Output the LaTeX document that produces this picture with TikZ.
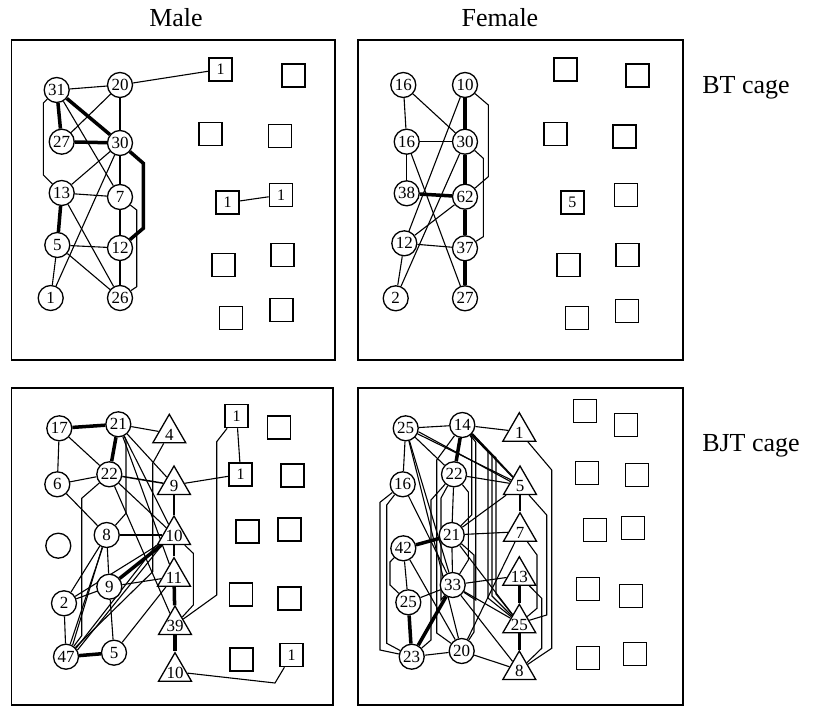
\documentclass[tikz,border=0pt]{standalone}
\usepackage{fontspec}
\setmainfont{Liberation Serif}
\usetikzlibrary{shapes.geometric,backgrounds}
\newcommand\tx[1]{\makebox[0pt]{\raisebox{-0.4em}[0pt][0pt]{#1}}}
\tikzset{
  cn/.style={circle,draw,line width=1.3pt,fill=white,minimum size=25pt,inner sep=0pt,font=\fontsize{17}{17}\selectfont},
  sq/.style={rectangle,draw,line width=1.5pt,fill=white,minimum size=23pt,inner sep=0pt,font=\fontsize{16}{16}\selectfont},
  tri/.style={regular polygon,regular polygon sides=3,draw,line width=1.3pt,fill=white,minimum size=38pt,inner sep=0pt,font=\fontsize{17}{17}\selectfont},
  e/.style={line width=1.1pt,line join=miter},
  tk/.style={line width=3.5pt},
  panel/.style={draw,line width=1.5pt},
  hdr/.style={font=\fontsize{26}{26}\selectfont}
}
\begin{document}
\begin{tikzpicture}[x=1pt,y=-1pt]
\useasboundingbox (0,0) rectangle (817,709);
% panels
\draw[panel] (11.5,40) rectangle (335,360);
\draw[panel] (358,40) rectangle (683,360);
\draw[panel] (11.5,388) rectangle (333,705);
\draw[panel] (358,388) rectangle (683,705);
\node[hdr] (hm) at (176,18) {Male};
\node[hdr] (hf) at (500,18) {Female};
\node[hdr] (hbt) at (746,88) {BT cage};
\node[hdr] (hbjt) at (751,446) {BJT cage};

% ===== Male BT =====
\node[cn] (m31) at (56.7,90) {31};
\node[cn] (m20) at (120,85) {20};
\node[cn] (m27) at (61.7,141.7) {27};
\node[cn] (m30) at (120,143) {30};
\node[cn] (m13) at (61.7,193) {13};
\node[cn] (m7) at (120,197) {7};
\node[cn] (m5) at (57.3,245) {5};
\node[cn] (m12) at (120,248) {12};
\node[cn] (m1) at (50.7,298) {1};
\node[cn] (m26) at (120,298) {26};
\node[sq] (mq1) at (220.7,69.3) {1};
\node[sq] (mq2) at (293.3,75.7) {};
\node[sq] (mq3) at (210.7,134) {};
\node[sq] (mq4) at (280,136) {};
\node[sq] (mq5) at (227.7,202.7) {1};
\node[sq] (mq6) at (281,195) {1};
\node[sq] (mq7) at (223.3,265) {};
\node[sq] (mq8) at (282.7,255) {};
\node[sq] (mq9) at (231,318) {};
\node[sq] (mq10) at (281.7,310) {};

% ===== Female BT =====
\node[cn] (f16a) at (403.3,85) {16};
\node[cn] (f10) at (465,85) {10};
\node[cn] (f16b) at (406.7,141.7) {16};
\node[cn] (f30) at (465,141.7) {30};
\node[cn] (f38) at (406.7,193.3) {38};
\node[cn] (f62) at (465,196.7) {62};
\node[cn] (f12) at (404.3,243.3) {12};
\node[cn] (f37) at (465,248.3) {37};
\node[cn] (f2) at (395.7,298.3) {2};
\node[cn] (f27) at (465,298.3) {27};
\node[sq] (fq1) at (565.7,69.3) {};
\node[sq] (fq2) at (637.7,75.7) {};
\node[sq] (fq3) at (555.7,134) {};
\node[sq] (fq4) at (624.3,136.7) {};
\node[sq] (fq5) at (572.3,202.7) {5};
\node[sq] (fq6) at (626,195) {};
\node[sq] (fq7) at (568.3,265) {};
\node[sq] (fq8) at (627.7,255) {};
\node[sq] (fq9) at (577,318) {};
\node[sq] (fq10) at (627,311) {};

% ===== Male BJT =====
\node[cn] (b17) at (59.3,428.3) {17};
\node[cn] (b21) at (118.3,424.3) {21};
\node[tri] (bt4) at (169.3,433.3) {\tx{4}};
\node[cn] (b6) at (57.3,484.3) {6};
\node[cn] (b22) at (109.3,474.3) {22};
\node[tri] (bt9) at (174,485) {\tx{9}};
\node[cn] (bempty) at (58.3,545.7) {};
\node[cn] (b8) at (106.7,535) {8};
\node[tri] (bt10) at (174,535) {\tx{10}};
\node[cn] (b9) at (109.3,586.7) {9};
\node[tri] (bt11) at (174,576.7) {\tx{11}};
\node[cn] (b2) at (64,603.3) {2};
\node[tri] (bt39) at (175,625) {\tx{39}};
\node[cn] (b47) at (66,656.7) {47};
\node[cn] (b5) at (114,652.7) {5};
\node[tri] (bt10b) at (175,671.7) {\tx{10}};
\node[sq] (bq1) at (236.7,416) {1};
\node[sq] (bq2) at (279,427.3) {};
\node[sq] (bq3) at (240.7,474.3) {1};
\node[sq] (bq4) at (292.3,475.7) {};
\node[sq] (bq5) at (247.7,531.7) {};
\node[sq] (bq6) at (289.3,529.3) {};
\node[sq] (bq7) at (241,594.3) {};
\node[sq] (bq8) at (289.3,598.3) {};
\node[sq] (bq9) at (241.7,659.3) {};
\node[sq] (bq10) at (291.7,655) {1};

% ===== Female BJT =====
\node[cn] (g25a) at (405.7,428.3) {25};
\node[cn] (g14) at (462.3,425) {14};
\node[cn] (g16) at (402.7,484.3) {16};
\node[cn] (g22) at (454,474.3) {22};
\node[cn] (g42) at (403.3,548.3) {42};
\node[cn] (g21) at (451.7,535) {21};
\node[cn] (g25b) at (408.3,602.3) {25};
\node[cn] (g33) at (452.7,585) {33};
\node[cn] (g23) at (411.7,656.7) {23};
\node[cn] (g20) at (461.7,651) {20};
\node[tri] (gt1) at (519.3,431.7) {\tx{1}};
\node[tri] (gt5) at (520,485) {\tx{5}};
\node[tri] (gt7) at (520,531.7) {\tx{7}};
\node[tri] (gt13) at (519.3,575.7) {\tx{13}};
\node[tri] (gt25) at (519.3,623.3) {\tx{25}};
\node[tri] (gt8) at (519.3,670) {\tx{8}};
\node[sq] (gq1) at (585,411) {};
\node[sq] (gq2) at (626,425) {};
\node[sq] (gq3) at (587,473) {};
\node[sq] (gq4) at (637,475) {};
\node[sq] (gq5) at (595,530) {};
\node[sq] (gq6) at (633,528) {};
\node[sq] (gq7) at (588,589) {};
\node[sq] (gq8) at (631,596) {};
\node[sq] (gq9) at (588,658) {};
\node[sq] (gq10) at (635,654) {};

\begin{pgfonlayer}{background}
% Male BT edges
\draw[e] (m31) -- (m20);
\draw[e] (m20) -- (mq1);
\draw[e] (m20) -- (m27);
\draw[e] (m20) -- (m30);
\draw[e] (m31) -- (m7);
\draw[e] (m30) -- (m13);
\draw[e] (m30) -- (m1);
\draw[e] (m30) -- (m7);
\draw[e] (m13) -- (m7);
\draw[e] (m13) -- (m26);
\draw[e] (m7) -- (m12);
\draw[e] (m5) -- (m12);
\draw[e] (m5) -- (m26);
\draw[e] (m5) -- (m1);
\draw[e] (m12) -- (m26);
\draw[e] (mq5) -- (mq6);
\draw[e] (m31) -- (43.3,103) -- (43.3,175) -- (m13);
\draw[e] (m7) -- (136.7,210) -- (136.7,286.7) -- (m26);
\draw[tk] (m31) -- (m27);
\draw[tk] (m31) -- (m30);
\draw[tk] (m27) -- (m30);
\draw[tk] (m13) -- (m5);
\draw[tk] (m30) -- (143.3,163.3) -- (143.3,228.3) -- (m12);

% Female BT edges
\draw[e] (f16a) -- (f16b);
\draw[e] (f16a) -- (f30);
\draw[e] (f10) -- (f12);
\draw[e] (f16b) -- (f30);
\draw[e] (f16b) -- (f38);
\draw[e] (f16b) -- (f27);
\draw[e] (f30) -- (f2);
\draw[e] (f62) -- (f12);
\draw[e] (f12) -- (f37);
\draw[e] (f12) -- (f2);
\draw[e] (f10) -- (488.3,105) -- (488.3,176.7) -- (f62);
\draw[e] (f30) -- (483.3,158.3) -- (483.3,236.7) -- (f37);
\draw[tk] (f10) -- (f30);
\draw[tk] (f30) -- (f62);
\draw[tk] (f38) -- (f62);
\draw[tk] (f62) -- (f37);
\draw[tk] (f37) -- (f27);

% Male BJT edges
\draw[tk] (b17) -- (b21);
\draw[tk] (b21) -- (b22);
\draw[tk] (b9) -- (bt10);
\draw[tk] (bt11) -- (bt39);
\draw[tk] (bt39) -- (bt10b);
\draw[tk] (b47) -- (b5);
\draw[e] (b17) -- (b6);
\draw[e] (b17) -- (b22);
\draw[e] (b21) -- (bt4);
\draw[e] (b21) -- (bt9);
\draw[e] (b21) -- (bt10);
\draw[e] (b21) -- (bt11);
\draw[e] (b22) -- (b6);
\draw[e,line width=1.5pt] (b22) -- (bt9);
\draw[e] (b22) -- (bt10);
\draw[e] (b22) -- (bt39);
\draw[e] (b6) -- (b8);
\draw[e] (b8) -- (bt10);
\draw[e] (b8) -- (b9);
\draw[e] (b8) -- (b2);
\draw[e] (b8) -- (b47);
\draw[e] (b8.-110) -- (b47.60);
\draw[e] (b9) -- (bt11);
\draw[e] (b9) -- (b2);
\draw[e] (b9) -- (b5);
\draw[e] (bt10) -- (b2);
\draw[e] (bt10.-150) -- (b47.40);
\draw[e] (bt10.-140) -- (b47.30);
\draw[e] (bt9) -- (bt10);
\draw[e] (bt10) -- (bt11);
\draw[e] (bt11) -- (b5);
\draw[e] (b2) -- (b47);
\draw[e] (bt9) -- (bq3);
\draw[e] (bq1) -- (bq3);
\draw[e] (b21) -- (126,440) -- (126,513.3) -- (b8);
\draw[e] (b22) -- (81.7,498.3) -- (81.7,635.7) -- (b47);
\draw[e] (bt4) -- (152.7,463.3) -- (152.7,571.7) -- (b47);
\draw[e] (bt10) -- (193.3,553.3) -- (193.3,605) -- (bt39);
\draw[e] (bt39) -- (216.7,595) -- (216.7,441.7) -- (bq1);
\draw[e] (bt10b) -- (275,683) -- (bq10);

% Female BJT edges
\draw[tk] (g14) -- (g22);
\draw[tk] (g42) -- (g21);
\draw[tk] (g33) -- (g23);
\draw[tk] (g25b) -- (g23);
\draw[tk] (gt13) -- (gt25);
\draw[tk] (gt25) -- (gt8);
\draw[e] (g25a) -- (g14);
\draw[e] (g25a) -- (g16);
\draw[e] (g25a) -- (g22);
\draw[e] (g25a.-15) -- (gt5.160);
\draw[e] (g25a.-25) -- (gt5.150);
\draw[e] (g25a) -- (g33);
\draw[e] (g14) -- (gt1);
\draw[e] (g14) -- (gt5);
\draw[e] (g14.-40) -- (gt5.130);
\draw[e] (g22) -- (g21);
\draw[e] (g22) -- (gt5);
\draw[e] (g16) -- (g33);
\draw[e] (g42) -- (g25b);
\draw[e] (g42) -- (g20);
\draw[e] (g21) -- (g33);
\draw[e] (g21) -- (gt7);
\draw[e] (g21) -- (gt5);
\draw[e] (g21) -- (gt25);
\draw[e] (g33) -- (gt13);
\draw[e] (g33) -- (g25b);
\draw[e] (g33) -- (gt25);
\draw[e] (g33) -- (gt8);
\draw[e] (g23) -- (g20);
\draw[e] (g20) -- (gt8);
\draw[e] (gt5) -- (gt7);
\draw[e] (gt7) -- (g20);
\draw[e] (g25a) -- (g20);
% bundles
\draw[e] (g16) -- (380,502.3) -- (380,650) -- (g23);
\draw[e] (g16) -- (386.7,505) -- (386.7,643.3) -- (g23);
\draw[e] (g42) -- (390,562) -- (390,585) -- (g25b);
\draw[e] (g14) -- (436.7,460) -- (436.7,633) -- (g20);
\draw[e] (g22) -- (431,500) -- (431,640) -- (g23);
\draw[e] (g22) -- (441,498) -- (441,600) -- (g33);
\draw[e] (g14) -- (471.7,438) -- (471.7,515) -- (g21);
\draw[e] (g14) -- (475.7,442) -- (475.7,600) -- (g33);
\draw[e] (g22) -- (468.3,492) -- (468.3,560) -- (g33);
\draw[e] (g21) -- (474,555) -- (474,632) -- (g20);
\draw[e] (g14) -- (488,452) -- (488,598) -- (gt25);
\draw[e] (g14) -- (492,455) -- (492,596) -- (gt25);
\draw[e] (g14) -- (496,458) -- (496,594) -- (gt25);
\draw[e] (gt1) -- (551.7,470) -- (551.7,648.3) -- (gt8);
\draw[e] (gt5) -- (546.7,515) -- (546.7,615) -- (gt25);
\draw[e] (gt7) -- (537,555) -- (537,608.3) -- (gt25);
\draw[e] (gt13) -- (541.7,598.3) -- (541.7,648.3) -- (gt8);
\end{pgfonlayer}
\end{tikzpicture}
\end{document}
